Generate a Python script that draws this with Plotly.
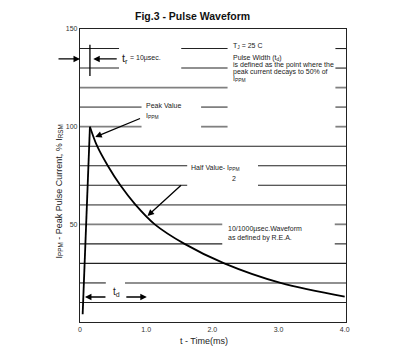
import plotly.graph_objects as go

# ---- data ----
rise_t = [0.04, 0.15]
rise_i = [4, 100]
decay_t = [0.15, 0.26, 0.42, 0.61, 0.84, 1.13, 1.58, 2.18, 3.03, 4.0]
decay_i = [100, 90, 80, 70, 60, 50, 40, 30, 20, 13]

x_ticks = [0, 1, 2, 3, 4]
x_tick_labels = ["0", "1.0", "2.0", "3.0", "4.0"]
y_ticks = [50, 100, 150]
y_tick_labels = ["50", "100", "150"]

# grid line levels with visible segments (time ranges)
grid_levels = [140, 130, 120, 110, 100, 90, 80, 70, 60, 50, 40, 30, 20, 10]
grid_segments = [
    [(0, 0.59), (1.53, 2.23), (3.86, 4.02)],
    [(0, 0.59), (1.53, 2.23), (3.86, 4.02)],
    [(0, 2.23), (3.86, 4.02)],
    [(0, 0.93), (1.83, 2.23), (3.86, 4.02)],
    [(0, 0.93), (1.83, 2.23), (3.86, 4.02)],
    [(0, 4.02)],
    [(0, 1.62), (2.69, 4.02)],
    [(0, 1.62), (2.69, 4.02)],
    [(0, 4.02)],
    [(0, 2.15), (3.85, 4.02)],
    [(0, 2.15), (3.85, 4.02)],
    [(0, 4.02)],
    [(0, 0.39), (0.68, 4.02)],
    [(0, 4.02)],
]
gray_levels = {120, 110, 100, 60, 50}

FONT = "Liberation Sans, Arial, sans-serif"

fig = go.Figure()
fig.add_trace(go.Scatter(x=rise_t, y=rise_i, mode="lines",
                         line=dict(color="black", width=1.8), showlegend=False))
fig.add_trace(go.Scatter(x=decay_t, y=decay_i, mode="lines", line_shape="spline",
                         line=dict(color="black", width=1.8, smoothing=1.0), showlegend=False))

shapes = []
for lvl, segs in zip(grid_levels, grid_segments):
    gray = lvl in gray_levels
    for a, b in segs:
        shapes.append(dict(type="line", xref="x", yref="y", x0=a, x1=b, y0=lvl, y1=lvl,
                           line=dict(color="#808080" if gray else "#222",
                                     width=1.8 if gray else 1.1), layer="below"))
# tr marker vertical line
shapes.append(dict(type="line", xref="x", yref="y", x0=0.15, x1=0.15, y0=126, y1=142,
                   line=dict(color="black", width=1.3)))

ann = []
def arrow(hx, hy, ax, ay=0, axref="pixel"):
    d = dict(x=hx, y=hy, xref="x", yref="y", showarrow=True, arrowhead=2, arrowsize=1,
             arrowwidth=1.3, arrowcolor="black", text="")
    if axref == "pixel":
        d.update(ax=ax, ay=ay)
    else:
        d.update(ax=ax, ay=ay, axref="x", ayref="y")
    ann.append(d)

arrow(0.0, 134.7, -23, 0)
arrow(0.2, 134.7, 25, 0)
arrow(0.23, 94.7, 0.93, 104.5, axref="x")
arrow(1.02, 54.3, 1.55, 70.7, axref="x")
arrow(0.075, 12.8, 22, 0)
arrow(1.01, 12.8, -22, 0)

def txt(x, y, s, size=7, **kw):
    d = dict(x=x, y=y, xref="x", yref="y", text=s, showarrow=False,
             xanchor="left", yanchor="middle", font=dict(family=FONT, size=size, color="#222"))
    d.update(kw)
    ann.append(d)

txt(0.61, 134.5, "t<sub>r</sub>", size=11)
txt(0.72, 135.2, "= 10µsec.")
txt(2.28, 141.5, "T<sub>J</sub> = 25 C")
txt(2.28, 135.2, "Pulse Width (t<sub>d</sub>)")
txt(2.28, 131.6, "is defined as the point where the")
txt(2.28, 128.0, "peak current decays to 50% of")
txt(2.28, 124.2, "I<sub>PPM</sub>")
txt(0.97, 110.8, "Peak Value")
txt(0.97, 105.5, "I<sub>PPM</sub>")
txt(1.65, 79.0, "Half Value- I<sub>PPM</sub>")
txt(2.27, 73.4, "2")
txt(2.2, 47.6, "10/1000µsec.Waveform")
txt(2.2, 43.0, "as defined by R.E.A.")
txt(0.47, 15.5, "t<sub>d</sub>", size=10)

# axis titles and figure title
ann.append(dict(x=(51 - 80) / 266, y=(322 - 192) / 293, xref="paper", yref="paper",
                text="I<sub>PPM</sub> - Peak Pulse Current, % I<sub>RSM</sub>", textangle=-90,
                showarrow=False, font=dict(family=FONT, size=9, color="#222")))
ann.append(dict(x=(204 - 80) / 266, y=(322 - 348) / 293, xref="paper", yref="paper",
                text="t - Time(ms)", showarrow=False,
                font=dict(family=FONT, size=9, color="#222")))
ann.append(dict(x=(192 - 80) / 266, y=(322 - 8) / 293, xref="paper", yref="paper",
                text="<b>Fig.3 - Pulse Waveform</b>", showarrow=False,
                font=dict(family=FONT, size=10.5, color="#111")))

fig.update_layout(
    width=408, height=354,
    margin=dict(l=80, r=62, t=29, b=32),
    paper_bgcolor="white", plot_bgcolor="white",
    shapes=shapes, annotations=ann,
    xaxis=dict(range=[0, 4.02], showgrid=False, zeroline=False,
               tickmode="array", tickvals=x_ticks, ticktext=x_tick_labels,
               ticks="", tickfont=dict(family=FONT, size=7, color="#333"),
               showline=True, linecolor="#222", linewidth=1.3, mirror=True),
    yaxis=dict(range=[0, 150], showgrid=False, zeroline=False,
               tickmode="array", tickvals=y_ticks, ticktext=y_tick_labels,
               ticks="", tickfont=dict(family=FONT, size=7, color="#333"),
               showline=True, linecolor="#222", linewidth=1.3, mirror=True),
)

fig.write_html("out.html")
